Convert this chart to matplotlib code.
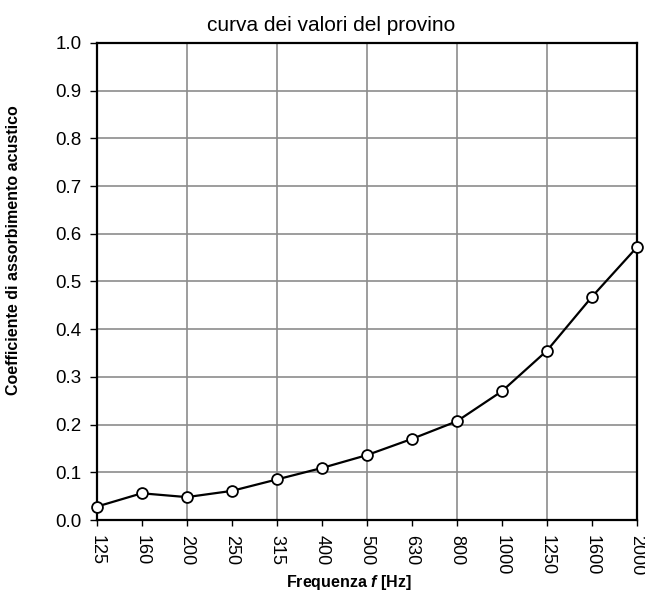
import matplotlib
matplotlib.use("Agg")
import matplotlib.pyplot as plt
import numpy as np

freqs = ['125', '160', '200', '250', '315', '400', '500', '630', '800',
         '1000', '1250', '1600', '2000']
alpha = [0.028, 0.056, 0.048, 0.061, 0.085, 0.109, 0.136, 0.170, 0.207,
         0.270, 0.355, 0.468, 0.572]

plt.rcParams['font.family'] = ['Liberation Sans', 'DejaVu Sans']
plt.rcParams['mathtext.fontset'] = 'custom'
plt.rcParams['mathtext.bfit'] = 'Liberation Sans:bold:italic'
plt.rcParams['mathtext.rm'] = 'Liberation Sans'

fig = plt.figure(figsize=(6.45, 5.93), dpi=100)
ax = fig.add_axes([0.15, 0.1231, 0.8376, 0.8044])

x = np.arange(len(freqs))
ax.plot(x, alpha, color='black', lw=1.6, marker='o', ms=7.8,
        mfc='white', mec='black', mew=1.3, zorder=5, clip_on=False)

ax.set_xlim(0, len(freqs) - 1)
ax.set_ylim(0, 1.0)
ax.set_xticks(x)
ax.set_xticklabels(freqs, rotation=270, fontsize=13)
ax.set_yticks(np.arange(0, 1.01, 0.1))
ax.set_yticklabels(['%.1f' % v for v in np.arange(0, 1.01, 0.1)], fontsize=13.5)
ax.tick_params(axis='y', direction='out', length=5, width=1, pad=6)
ax.tick_params(axis='x', direction='out', length=4, width=1, pad=7)

# horizontal grid at every tick, vertical grid every other category
ax.grid(axis='y', color='#8c8c8c', lw=1.2)
for i in x[2::2]:
    ax.axvline(i, color='#8c8c8c', lw=1.2, zorder=1)
ax.set_axisbelow(True)

for s in ax.spines.values():
    s.set_linewidth(1.6)
    s.set_color('black')

fig.text(0.513, 0.948, 'curva dei valori del provino', fontsize=15,
         ha='center', va='baseline')
ax.set_xlabel('Frequenza $\\bfit{f}$ [Hz]', fontsize=11.5, fontweight='bold')
ax.xaxis.set_label_coords(0.467, -0.111)
ax.set_ylabel('Coefficiente di assorbimento acustico', fontsize=11.5,
              fontweight='bold')
ax.yaxis.set_label_coords(-0.14, 0.566)

fig.savefig('out.png', dpi=100)
